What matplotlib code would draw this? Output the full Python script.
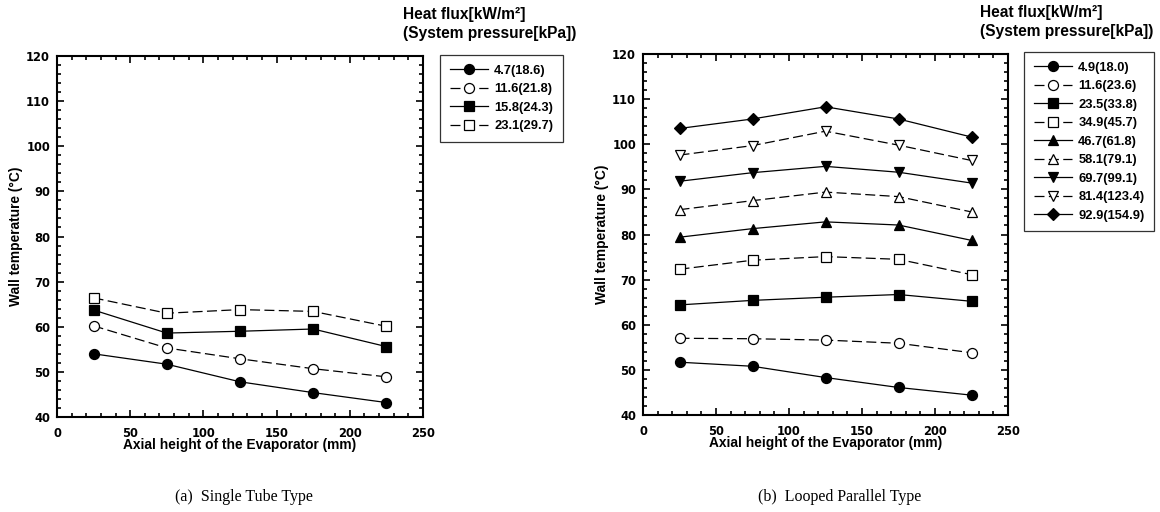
import numpy as np
import matplotlib
matplotlib.use('Agg')
import matplotlib.pyplot as plt
from matplotlib.ticker import MultipleLocator

plt.rcParams['font.family'] = ['Liberation Sans', 'DejaVu Sans']
plt.rcParams['font.weight'] = 'bold'

# axial positions (mm)
heights = [25, 75, 125, 175, 225]

# (a) single tube type
single_labels = ['4.7(18.6)', '11.6(21.8)', '15.8(24.3)', '23.1(29.7)']
single_4_7 = [54.0, 51.7, 47.8, 45.4, 43.2]
single_11_6 = [60.2, 55.3, 52.9, 50.7, 48.9]
single_15_8 = [63.7, 58.6, 59.0, 59.5, 55.6]
single_23_1 = [66.4, 63.0, 63.8, 63.4, 60.1]

# (b) looped parallel type
looped_labels = ['4.9(18.0)', '11.6(23.6)', '23.5(33.8)', '34.9(45.7)', '46.7(61.8)',
                 '58.1(79.1)', '69.7(99.1)', '81.4(123.4)', '92.9(154.9)']
looped_4_9 = [51.7, 50.8, 48.3, 46.1, 44.4]
looped_11_6 = [57.0, 56.9, 56.6, 55.9, 53.8]
looped_23_5 = [64.4, 65.4, 66.1, 66.7, 65.2]
looped_34_9 = [72.3, 74.3, 75.1, 74.5, 71.1]
looped_46_7 = [79.4, 81.3, 82.8, 82.1, 78.7]
looped_58_1 = [85.5, 87.5, 89.4, 88.4, 85.0]
looped_69_7 = [91.8, 93.7, 95.1, 93.8, 91.4]
looped_81_4 = [97.6, 99.7, 102.9, 99.8, 96.4]
looped_92_9 = [103.5, 105.6, 108.3, 105.6, 101.6]

# marker, filled, dashed
styles = [('o', True, False), ('o', False, True), ('s', True, False), ('s', False, True),
          ('^', True, False), ('^', False, True), ('v', True, False), ('v', False, True),
          ('D', True, False)]

W, H = 1160, 512
fig = plt.figure(figsize=(W / 100, H / 100), dpi=100)


def px_axes(l, t, r, b):
    return fig.add_axes([l / W, 1 - b / H, (r - l) / W, (b - t) / H])


def draw(ax, series, labels, leg_xy, head_xy, caption, cap_xy):
    for i, (vals, lab) in enumerate(zip(series, labels)):
        m, filled, dashed = styles[i]
        ms = 7.2 if m != 'D' else 6.6
        ax.plot(heights, vals, marker=m, color='black', lw=0.9,
                ls=(0, (8, 3.5)) if dashed else '-',
                mfc='black' if filled else 'white', mec='black', mew=0.9,
                ms=ms, label=lab)
    ax.set_xlim(0, 250)
    ax.set_ylim(40, 120)
    ax.xaxis.set_major_locator(MultipleLocator(50))
    ax.xaxis.set_minor_locator(MultipleLocator(10))
    ax.yaxis.set_major_locator(MultipleLocator(10))
    ax.yaxis.set_minor_locator(MultipleLocator(2))
    ax.tick_params(which='both', direction='in', top=True, right=True, width=1.2)
    ax.tick_params(which='major', length=5, labelsize=8.3)
    ax.tick_params(axis='x', which='major', pad=7)
    ax.tick_params(axis='y', which='major', pad=5)
    ax.tick_params(which='minor', length=2.8)
    for lab in ax.get_xticklabels() + ax.get_yticklabels():
        lab.set_family('DejaVu Sans')
        lab.set_fontweight('bold')
    for s in ax.spines.values():
        s.set_linewidth(1.5)
    ax.set_xlabel('Axial height of the Evaporator (mm)', fontsize=9.9,
                  fontweight='bold', labelpad=-1)
    ax.set_ylabel('Wall temperature (°C)', fontsize=9.9, fontweight='bold', labelpad=2)
    leg = ax.legend(loc='upper left', bbox_to_anchor=(leg_xy[0] / W, 1 - leg_xy[1] / H),
                    bbox_transform=fig.transFigure, borderaxespad=0, fancybox=False,
                    edgecolor='black', fontsize=9.3, handlelength=3.0, labelspacing=0.5,
                    borderpad=0.75, handletextpad=0.45)
    leg.get_frame().set_linewidth(0.9)
    fig.text(head_xy[0] / W, 1 - head_xy[1] / H, 'Heat flux[kW/m²]\n(System pressure[kPa])',
             fontsize=11.2, fontweight='bold', va='top', ha='left', linespacing=1.3)
    fig.text(cap_xy[0] / W, 1 - cap_xy[1] / H, caption, fontsize=11.5, fontweight='normal',
             family='Liberation Serif', ha='center', va='center')


ax1 = px_axes(57, 56, 423, 417)
draw(ax1, [single_4_7, single_11_6, single_15_8, single_23_1], single_labels,
     (440, 55), (403, 7), '(a)  Single Tube Type', (244, 497))

ax2 = px_axes(643, 54, 1008, 415)
draw(ax2, [looped_4_9, looped_11_6, looped_23_5, looped_34_9, looped_46_7,
           looped_58_1, looped_69_7, looped_81_4, looped_92_9], looped_labels,
     (1024, 52), (980, 5), '(b)  Looped Parallel Type', (840, 497))

fig.savefig('out.png', dpi=100)
